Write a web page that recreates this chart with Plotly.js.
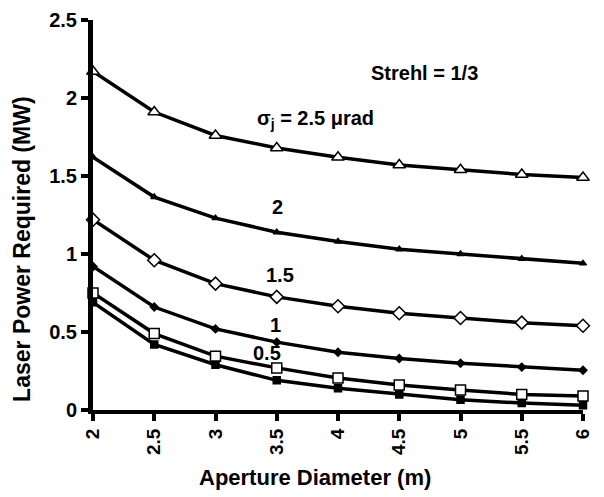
<!DOCTYPE html>
<html>
<head>
<meta charset="utf-8">
<script src="https://cdn.plot.ly/plotly-3.0.1.min.js"></script>
<style>html,body{margin:0;padding:0;background:#fff;}#chart{width:604px;height:497px;}</style>
</head>
<body>
<div id="chart"></div>
<script>
const aperture = [2, 2.5, 3, 3.5, 4, 4.5, 5, 5.5, 6];
const jitter25 = [2.17, 1.91, 1.76, 1.68, 1.62, 1.57, 1.54, 1.51, 1.49];
const jitter20 = [1.62, 1.365, 1.23, 1.14, 1.08, 1.03, 1.0, 0.97, 0.94];
const jitter15 = [1.22, 0.96, 0.81, 0.725, 0.665, 0.62, 0.59, 0.56, 0.54];
const jitter10 = [0.92, 0.66, 0.52, 0.435, 0.37, 0.33, 0.30, 0.275, 0.255];
const jitter05 = [0.75, 0.49, 0.345, 0.27, 0.205, 0.16, 0.128, 0.10, 0.09];
const jitter00 = [0.69, 0.42, 0.29, 0.19, 0.14, 0.10, 0.065, 0.045, 0.03];
const xTicks = [2, 2.5, 3, 3.5, 4, 4.5, 5, 5.5, 6];
const yTicks = [0, 0.5, 1, 1.5, 2, 2.5];
const labels = ["Strehl = 1/3", "σ<sub>j</sub> = 2.5 μrad", "2", "1.5", "1", "0.5"];
const labelX = [4.71, 3.82, 3.51, 3.53, 3.49, 3.42];
const labelY = [2.16, 1.86, 1.30, 0.865, 0.545, 0.365];
const xTitle = "Aperture Diameter (m)";
const yTitle = "Laser Power Required (MW)";

function series(y, sym, size, fill) {
  return {
    x: aperture, y: y, type: 'scatter', mode: 'lines+markers',
    line: {color: '#000', width: 3.5},
    marker: {symbol: sym, size: size, color: fill, line: {color: '#000', width: 1.5}},
    cliponaxis: false, showlegend: false
  };
}
const data = [
  series(jitter25, 'triangle-up', 11, '#fff'),
  series(jitter20, 'triangle-up', 6, '#000'),
  series(jitter15, 'diamond', 10, '#fff'),
  series(jitter10, 'diamond', 6, '#000'),
  series(jitter05, 'square', 10, '#fff'),
  series(jitter00, 'square', 7, '#000')
];
const fnt = {family: 'Liberation Sans, Arial, sans-serif', color: '#000'};
const annotations = labels.map((t, i) => ({
  x: labelX[i], y: labelY[i], xref: 'x', yref: 'y', text: '<b>' + t + '</b>',
  showarrow: false, font: Object.assign({}, fnt, {size: 20})
}));
annotations.push({
  x: 0.453, y: -0.174, xref: 'paper', yref: 'paper', xanchor: 'center', yanchor: 'middle',
  text: '<b>' + xTitle + '</b>', showarrow: false, font: Object.assign({}, fnt, {size: 22})
});
annotations.push({
  x: -0.145, y: 0.413, xref: 'paper', yref: 'paper', xanchor: 'center', yanchor: 'middle',
  text: '<b>' + yTitle + '</b>', textangle: -90, showarrow: false,
  font: Object.assign({}, fnt, {size: 23})
});
const layout = {
  width: 604, height: 497,
  margin: {l: 93, r: 21, t: 20, b: 87},
  paper_bgcolor: '#fff', plot_bgcolor: '#fff',
  xaxis: {
    range: [2, 6], tickvals: xTicks, ticktext: xTicks.map(v => '<b>' + v + '</b>'), tickangle: -90,
    showgrid: false, zeroline: false, showline: true, linecolor: '#000', linewidth: 4,
    ticks: 'outside', ticklen: 7, tickwidth: 4, tickcolor: '#000',
    tickfont: Object.assign({}, fnt, {size: 19, weight: 'bold'})
  },
  yaxis: {
    range: [0, 2.5], tickvals: yTicks, ticktext: yTicks.map(v => '<b>' + v + '</b>'),
    showgrid: false, zeroline: false, showline: true, linecolor: '#000', linewidth: 5,
    ticks: 'outside', ticklen: 7, tickwidth: 4, tickcolor: '#000',
    tickfont: Object.assign({}, fnt, {size: 20, weight: 'bold'})
  },
  annotations: annotations
};
Plotly.newPlot('chart', data, layout, {displayModeBar: false, staticPlot: true});
</script>
</body>
</html>
